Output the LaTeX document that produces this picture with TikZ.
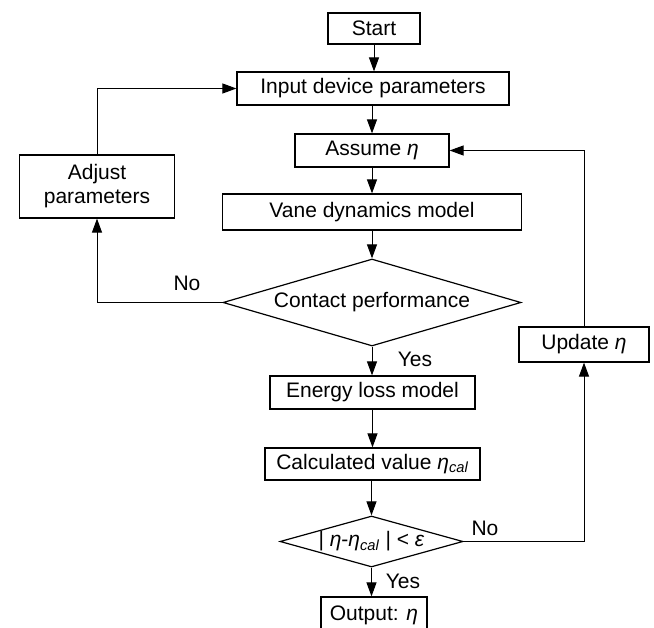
\documentclass[tikz,border=0pt]{standalone}
\usepackage{fontspec}
\setmainfont{Liberation Sans}
\usetikzlibrary{arrows.meta,shapes.geometric,calc}
\tikzset{
  box/.style={draw, line width=1.2pt, rectangle, inner sep=0pt, align=center},
  dia/.style={draw, line width=1.2pt, diamond, inner sep=0pt, aspect=1},
  lbl/.style={inner sep=0pt},
  arr/.style={line width=1pt, -{Triangle[length=14pt,width=10pt]}},
  ln/.style={line width=1pt}
}
\begin{document}
\begin{tikzpicture}[x=1pt,y=-1pt,font=\fontsize{21}{24}\selectfont]
\useasboundingbox (0,0) rectangle (654,628);
\node[box, minimum width=92pt, minimum height=31pt] (start) at (374,28.5) {Start};
\node[box, minimum width=272pt, minimum height=33pt] (input) at (373,88.5) {Input device parameters};
\node[box, minimum width=154pt, minimum height=33pt] (assume) at (372,150.5) {Assume \textit{η}};
\node[box, minimum width=155pt, minimum height=63pt] (adjust) at (97,186.5) {Adjust\\parameters};
\node[box, minimum width=299pt, minimum height=36pt] (vane) at (372,212) {Vane dynamics model};
\node[dia, minimum width=298pt, minimum height=87pt] (contact) at (372,302.5) {};
\node[lbl] at (contact) {Contact performance};
\node[box, minimum width=130pt, minimum height=35pt] (update) at (584,344.5) {Update \textit{η}};
\node[box, minimum width=205pt, minimum height=33pt] (energy) at (372.5,392.5) {Energy loss model};
\node[box, minimum width=215pt, minimum height=32pt] (calc) at (372.5,464) {Calculated value \textit{η}\textsubscript{\textit{cal}}};
\node[dia, minimum width=183pt, minimum height=51pt] (check) at (371.5,541.5) {};
\node[lbl] at (check) {| \textit{η}-\textit{η}\textsubscript{\textit{cal}} | < \textit{ε}};
\node[box, minimum width=106pt, minimum height=36pt] (output) at (374,615) {Output: \textit{η}};

\node[lbl] (no1) at (187,283) {No};
\node[lbl] (yes1) at (415,359) {Yes};
\node[lbl] (no2) at (485,528) {No};
\node[lbl] (yes2) at (403,581) {Yes};

\draw[arr] (start.south) -- (start.south |- input.north);
\draw[arr] (input.south -| assume.north) -- (assume.north);
\draw[arr] (assume.south) -- (assume.south |- vane.north);
\draw[arr] (vane.south -| contact.north) -- (contact.north);
\draw[arr] (contact.south) -- (contact.south |- energy.north);
\draw[arr] (energy.south -| calc.north) -- (calc.north);
\draw[arr] (calc.south -| check.north) -- (check.north);
\draw[arr] (check.south) -- (check.south |- output.north);

\draw[arr] (contact.west) -| (adjust.south);
\draw[arr] (adjust.north) |- (input.west);
\draw[arr] (check.east) -| (update.south);
\draw[arr] (update.north) |- (assume.east);
\end{tikzpicture}
\end{document}
